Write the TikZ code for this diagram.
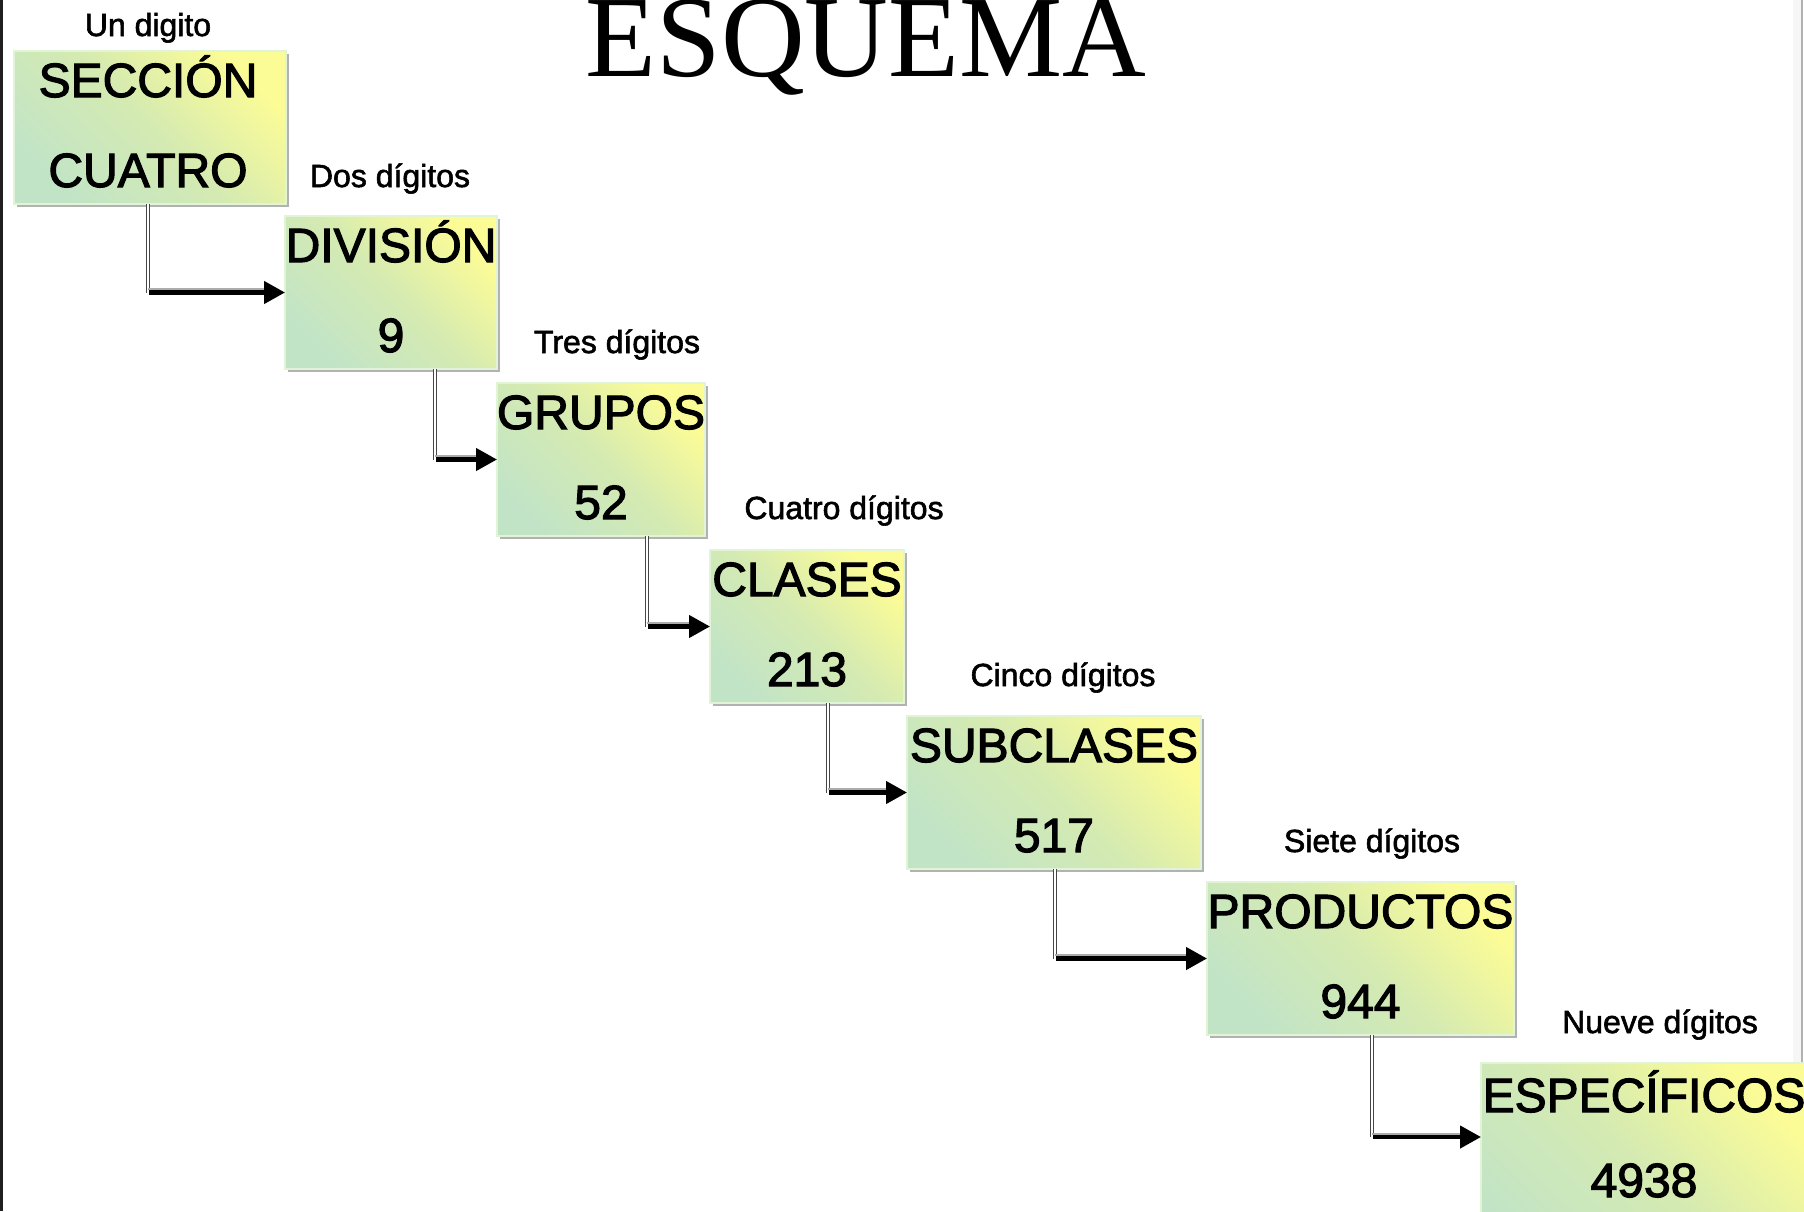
\documentclass[tikz,border=0pt]{standalone}
\usepackage{fontspec}
\setmainfont{Liberation Sans}
\newfontfamily\titlefont{Liberation Serif}
\newfontfamily\boxfont[FakeBold=2.4]{Liberation Sans}
\newfontfamily\labelfont[FakeBold=1.8]{Liberation Sans}
\usetikzlibrary{arrows.meta,shadows,calc}
\definecolor{boxyellow}{RGB}{252,252,150}
\definecolor{boxgreen}{RGB}{194,228,198}
\definecolor{boxmid}{RGB}{212,234,178}
\definecolor{boxedge}{RGB}{226,244,214}
\begin{document}
\begin{tikzpicture}[x=0.5pt,y=-0.5pt,
  box/.style={anchor=north west, inner sep=0pt, outer sep=0pt,
    top color=boxyellow, bottom color=boxgreen, middle color=boxmid, shading angle=-45,
    draw=boxedge, line width=0.8pt, minimum height=76.5pt,
    general shadow={fill=gray!60, shadow xshift=1.4pt, shadow yshift=-1.4pt}},
  boxtext/.style={anchor=base, inner sep=0pt, font=\boxfont\fontsize{24}{28}\selectfont},
  digits/.style={anchor=base, inner sep=0pt, font=\labelfont\fontsize{16}{19}\selectfont},
  vseg/.style={draw=gray!55!black, double=white, double distance=0.8pt, line width=0.5pt},
  hseg/.style={draw=black, line width=2.2pt, -{Triangle[length=10.5pt,width=11pt]}},
  hshade/.style={draw=gray!65, line width=1pt},
]
\useasboundingbox (0,0) rectangle (1804,1211);
\clip (0,0) rectangle (1804,1211);
\fill[white] (0,0) rectangle (1804,1211);
% page borders
\fill[gray!7] (1793,0) rectangle (1801,1211);
\draw[gray!60, line width=1pt] (1802,0) -- (1802,1211);

% title
\node[anchor=base, inner sep=0pt, font=\titlefont\fontsize{58}{60}\selectfont] (ttl) at (866,76) {ESQUEMA};

% boxes
\node[box, minimum width=136pt] (b1) at (14,51) {};
\node[box, minimum width=106pt] (b2) at (285,216) {};
\node[box, minimum width=104pt] (b3) at (497,383) {};
\node[box, minimum width=97pt] (b4) at (710,550) {};
\node[box, minimum width=147pt] (b5) at (907,716) {};
\node[box, minimum width=153.5pt] (b6) at (1207,882) {};
\node[box, minimum width=165pt, minimum height=110pt] (b7) at (1481,1063) {};

% box texts
\node[boxtext] (b1a) at ([yshift=-23pt,xshift=-1pt]b1.north) {SECCIÓN};
\node[boxtext] (b1b) at ([yshift=-68pt,xshift=-1pt]b1.north) {CUATRO};
\node[boxtext] (b2a) at ([yshift=-23pt]b2.north) {DIVISIÓN};
\node[boxtext] (b2b) at ([yshift=-68pt]b2.north) {9};
\node[boxtext] (b3a) at ([yshift=-23pt]b3.north) {GRUPOS};
\node[boxtext] (b3b) at ([yshift=-68pt]b3.north) {52};
\node[boxtext] (b4a) at ([yshift=-23pt]b4.north) {CLASES};
\node[boxtext] (b4b) at ([yshift=-68pt]b4.north) {213};
\node[boxtext] (b5a) at ([yshift=-23pt]b5.north) {SUBCLASES};
\node[boxtext] (b5b) at ([yshift=-68pt]b5.north) {517};
\node[boxtext] (b6a) at ([yshift=-23pt]b6.north) {PRODUCTOS};
\node[boxtext] (b6b) at ([yshift=-68pt]b6.north) {944};
\node[boxtext] (b7a) at ([yshift=-24.5pt,xshift=-1pt]b7.north) {ESPECÍFICOS};
\node[boxtext] (b7b) at ([yshift=-67pt,xshift=-1pt]b7.north) {4938};

% digit labels
\node[digits] (l1) at (148,36) {Un digito};
\node[digits] (l2) at (390,187) {Dos dígitos};
\node[digits] (l3) at (617,353) {Tres dígitos};
\node[digits] (l4) at (844,519) {Cuatro dígitos};
\node[digits] (l5) at (1063,686) {Cinco dígitos};
\node[digits] (l6) at (1372,852) {Siete dígitos};
\node[digits] (l7) at (1660,1033) {Nueve dígitos};

% connector start points and corners
\coordinate (s1) at ([xshift=-1pt]b1.south);
\coordinate (s2) at ([xshift=22pt]b2.south);
\coordinate (s3) at ([xshift=23pt]b3.south);
\coordinate (s4) at ([xshift=10.5pt]b4.south);
\coordinate (s5) at ([xshift=0.5pt]b5.south);
\coordinate (s6) at ([xshift=5.75pt]b6.south);
\coordinate (t7) at ([yshift=18pt]b7.west);
\coordinate (c1) at (s1 |- b2.west);
\coordinate (c2) at (s2 |- b3.west);
\coordinate (c3) at (s3 |- b4.west);
\coordinate (c4) at (s4 |- b5.west);
\coordinate (c5) at (s5 |- b6.west);
\coordinate (c6) at (s6 |- t7);

% connectors
\foreach \s/\c/\t in {s1/c1/b2.west, s2/c2/b3.west, s3/c3/b4.west, s4/c4/b5.west, s5/c5/b6.west, s6/c6/t7}{
  \draw[vseg] (\s) -- (\c);
  \draw[hshade] ([yshift=1.7pt]\c) -- ([yshift=1.7pt,xshift=-8pt]\t);
  \draw[hseg] ([xshift=0.5pt]\c) -- (\t);
}

% left border
\draw[gray!25!black, line width=1.5pt] (1.5,0) -- (1.5,1211);
\end{tikzpicture}
\end{document}
